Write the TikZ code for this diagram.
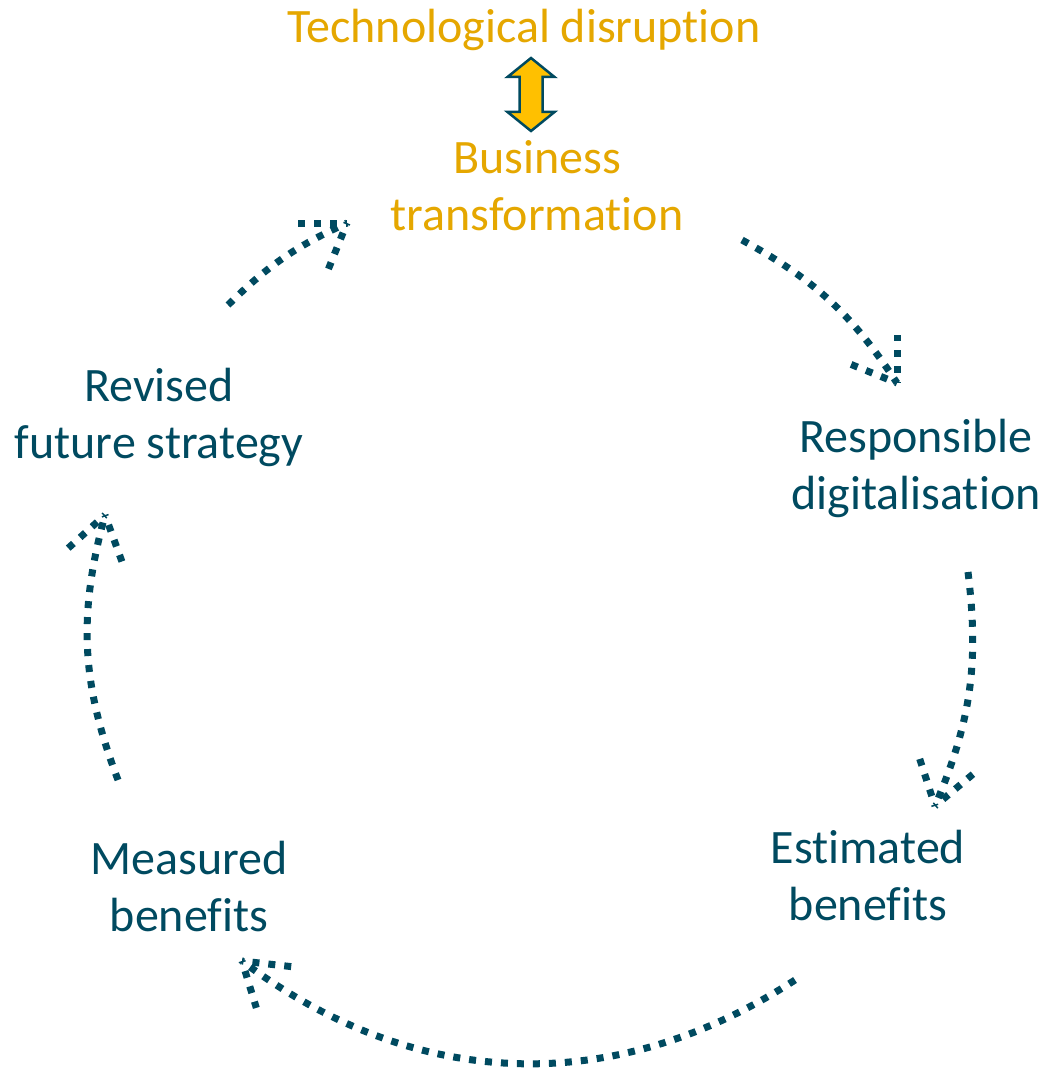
\documentclass[tikz,border=0pt]{standalone}
\usepackage{fontspec}
\setmainfont{Carlito}[RawFeature={-liga;-calt;-dlig}]
\definecolor{cycleteal}{RGB}{0,74,96}
\definecolor{disruptgold}{RGB}{229,167,0}
\definecolor{linkfill}{RGB}{255,192,0}

\begin{document}
\begin{tikzpicture}[x=1pt,y=1pt,
  steplabel/.style={text=cycleteal, font=\fontsize{48}{57}\selectfont, align=center, inner sep=0pt},
  dotline/.style={draw=cycleteal, line width=7pt, dash pattern=on 7pt off 9pt},
  headline/.style={dotline, dash phase=5.5pt}]
\useasboundingbox (0,0) rectangle (1048,-1070);
% labels
\node[steplabel, text=disruptgold, anchor=base] (disrupt) at (524,-43) {Technological disruption};
\node[steplabel, text=disruptgold] (biz) at (537,-186) {Business\\transformation};
\node[steplabel] (resp) at (916,-468) {Responsible\\digitalisation};
\node[steplabel] (est) at (868,-876) {Estimated\\benefits};
\node[steplabel] (meas) at (189,-886) {Measured\\benefits};
\node[steplabel] (rev) at (159,-417) {Revised\\future strategy};
% two-way link
\draw[fill=linkfill, draw=cycleteal, line width=2.5pt, line join=miter, shift={(531,-94.5)}]
  (0,36.5) -- (23.5,17.5) -- (11.5,17.5) -- (11.5,-17.5) -- (23.5,-17.5) -- (0,-36.5)
  -- (-23.5,-17.5) -- (-11.5,-17.5) -- (-11.5,17.5) -- (-23.5,17.5) -- cycle;
% cycle arrows
\coordinate (s1) at (742,-240); \coordinate (t1) at (897,-383);
\coordinate (s2) at (968,-572); \coordinate (t2) at (935,-806);
\coordinate (s3) at (795,-980); \coordinate (t3) at (242,-961);
\coordinate (s4) at (118,-780); \coordinate (t4) at (105,-515);
\coordinate (s5) at (228,-305); \coordinate (t5) at (347,-223);
\draw[dotline] (s1) to[bend left=14] (t1);
\draw[dotline] (s2) to[bend left=15] (t2);
\draw[dotline] (s3) to[bend left=35] (t3);
\draw[dotline] (s4) to[bend left=18] (t4);
\draw[dotline] (s5) to[bend left=10] (t5);
% open heads
\draw[headline] (t1) -- ++(90:48);  \draw[headline] (t1) -- ++(158:53);
\draw[headline] (t2) -- ++(108:54); \draw[headline] (t2) -- ++(40:52);
\draw[headline] (t3) -- ++(-6.5:53); \draw[headline] (t3) -- ++(-73:49);
\draw[headline] (t4) -- ++(-138:52); \draw[headline] (t4) -- ++(-70:50);
\draw[headline] (t5) -- ++(180:49); \draw[headline] (t5) -- ++(-112:51);
\end{tikzpicture}
\end{document}
